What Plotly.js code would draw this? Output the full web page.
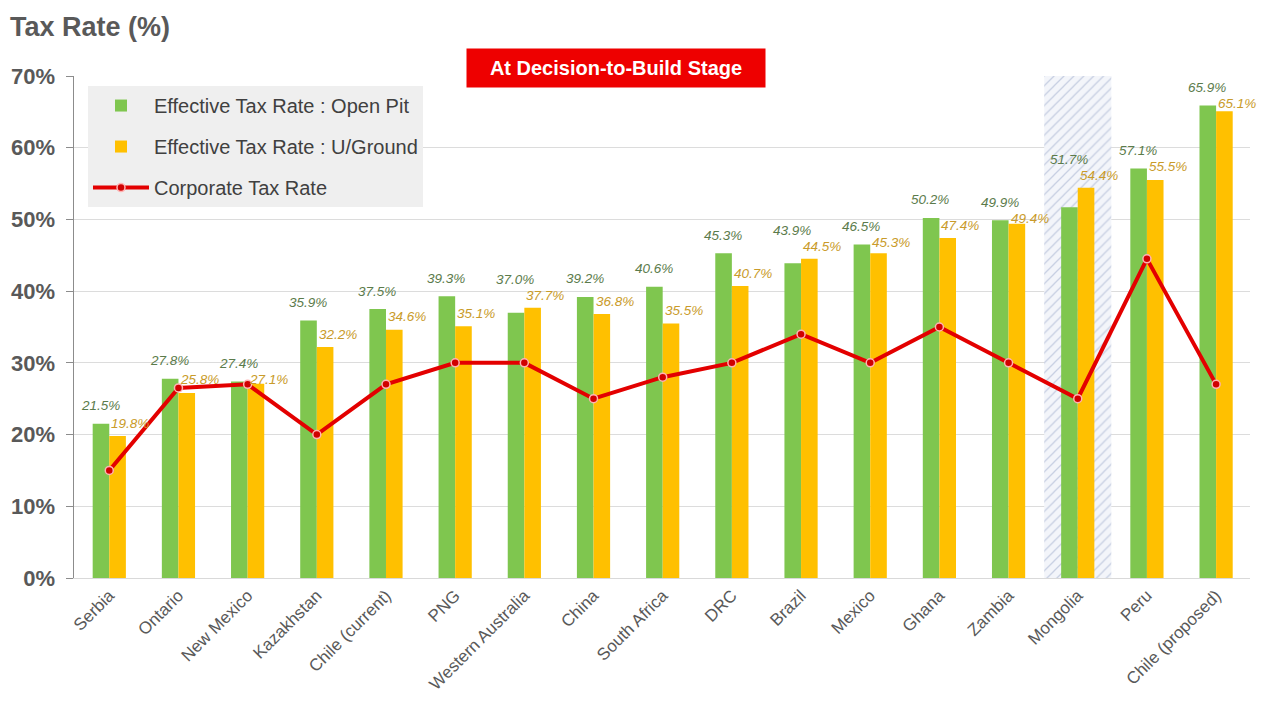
<!DOCTYPE html>
<html>
<head>
<meta charset="utf-8">
<script src="https://cdn.plot.ly/plotly-3.0.1.min.js"></script>
<style>html,body{margin:0;padding:0;background:#fff;}#chart{width:1274px;height:711px;}</style>
</head>
<body>
<div id="chart"></div>
<script>
// ---- data ----
const categories = ['Serbia','Ontario','New Mexico','Kazakhstan','Chile (current)','PNG','Western Australia','China','South Africa','DRC','Brazil','Mexico','Ghana','Zambia','Mongolia','Peru','Chile (proposed)'];
const openPit     = [21.5,27.8,27.4,35.9,37.5,39.3,37.0,39.2,40.6,45.3,43.9,46.5,50.2,49.9,51.7,57.1,65.9];
const underground = [19.8,25.8,27.1,32.2,34.6,35.1,37.7,36.8,35.5,40.7,44.5,45.3,47.4,49.4,54.4,55.5,65.1];
const corporate   = [15,26.5,27,20,27,30,30,25,28,30,34,30,35,30,25,44.5,27];
const highlighted = ['Mongolia'];
const yTickVals   = [0,10,20,30,40,50,60,70];
const yTickText   = ['0%','10%','20%','30%','40%','50%','60%','70%'];
const yMax = 70;

const FONT = 'Liberation Sans, Arial, sans-serif';
const GREEN = '#7fc64f', ORANGE = '#ffc000', RED = '#e30000';
const MARGIN = {l:74, r:24, t:76, b:133};
const PX_PER_UNIT = (711 - MARGIN.t - MARGIN.b) / yMax;

const traces = [
  { type:'bar', x: highlighted, y: highlighted.map(()=>yMax), width:0.97,
    marker:{color:'#f3f5fa', line:{width:0}, pattern:{shape:'/', fgcolor:'#c7cfe2', bgcolor:'#f3f5fa', size:7, solidity:0.18}},
    showlegend:false, hoverinfo:'skip' },
  { type:'bar', name:'Effective Tax Rate : Open Pit', x:categories, y:openPit,
    width:0.24, offset:-0.24, marker:{color:GREEN, line:{width:0}}, legendgroup:'a' },
  { type:'bar', name:'Effective Tax Rate : U/Ground', x:categories, y:underground,
    width:0.24, offset:0, marker:{color:ORANGE, line:{width:0}}, legendgroup:'b' },
  { type:'scatter', mode:'lines+markers', name:'Corporate Tax Rate', x:categories, y:corporate,
    line:{color:RED, width:4}, marker:{size:8, color:'#d00000', line:{color:'#ffb3b3', width:1.5}}, legendgroup:'c' }
];

const annotations = [];
categories.forEach((c,i)=>{
  const g = openPit[i], u = underground[i];
  const gShift = u > g ? 28 : 18;
  // keep the two labels at least 16px apart vertically
  const uShift = u > g ? 12 : Math.min(13, gShift + (g - u) * PX_PER_UNIT - 16);
  annotations.push({ x:c, y: Math.max(g,u), xref:'x', yref:'y', text: g.toFixed(1)+'%', showarrow:false,
    xshift:-9, yshift: gShift, yanchor:'middle',
    font:{family:FONT, size:13.5, color:'#5b7b4b', style:'italic'} });
  annotations.push({ x:c, y:u, xref:'x', yref:'y', text: u.toFixed(1)+'%', showarrow:false,
    xshift:21, yshift:uShift, yanchor:'middle',
    font:{family:FONT, size:13.5, color:'#c99b2a', style:'italic'} });
});
annotations.push({ xref:'paper', yref:'paper', x:0.4613, y:1.015, xanchor:'center', yanchor:'middle',
  text:'At Decision-to-Build Stage', showarrow:false, bgcolor:'#ee0000', width:290, height:30, borderpad:4,
  font:{family:FONT, size:20, color:'#ffffff', weight:'bold'} });

const layout = {
  width:1274, height:711,
  margin:MARGIN,
  paper_bgcolor:'#ffffff', plot_bgcolor:'#ffffff',
  font:{family:FONT, color:'#595959'},
  barmode:'overlay',
  title:{text:'Tax Rate (%)', x:10/1274, xref:'container', xanchor:'left', y:1-27/711, yref:'container', yanchor:'middle',
    font:{family:FONT, size:27, color:'#595959', weight:'bold'}},
  xaxis:{type:'category', categoryorder:'array', categoryarray:categories, range:[-0.51,16.49], automargin:false, tickangle:-45,
    tickfont:{family:FONT, size:17, color:'#595959'}, showgrid:false, zeroline:false,
    showline:true, linecolor:'#d9d9d9', linewidth:1, ticks:''},
  yaxis:{range:[0,yMax], automargin:false, tickvals:yTickVals, ticktext:yTickText,
    tickfont:{family:FONT, size:22, color:'#595959', weight:'bold'},
    showgrid:true, gridcolor:'#dcdcdc', gridwidth:1, zeroline:false,
    showline:true, linecolor:'#8c8c8c', linewidth:1.5, ticks:'outside', ticklen:7, tickcolor:'#8c8c8c', ticklabelstandoff:6},
  legend:{x:0.0119, y:0.98, xanchor:'left', yanchor:'top', bgcolor:'#efefef', borderwidth:0,
    font:{family:FONT, size:20, color:'#404040'}, traceorder:'grouped', tracegroupgap:12, itemwidth:56},
  annotations: annotations,
  showlegend:true
};

Plotly.newPlot('chart', traces, layout, {displayModeBar:false, staticPlot:true});
</script>
</body>
</html>
